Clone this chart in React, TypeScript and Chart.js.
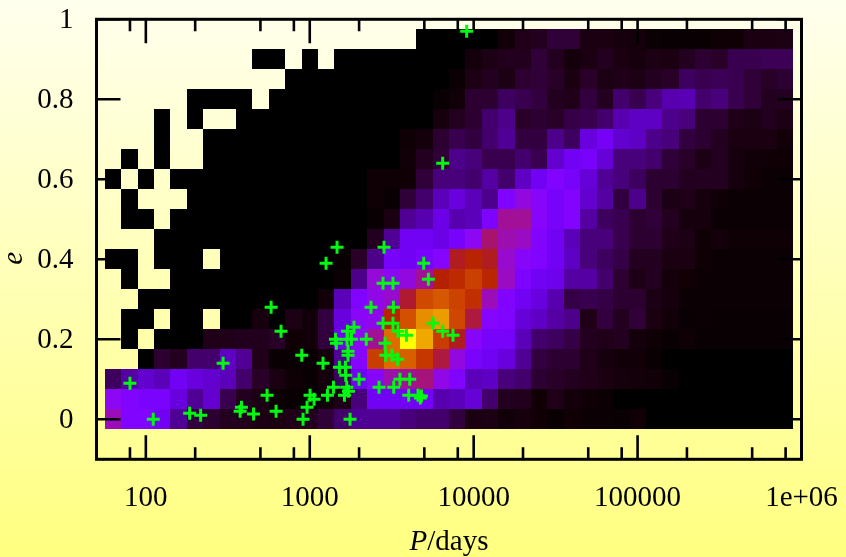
import React, { useEffect, useRef } from "react";
import { Chart, registerables } from "chart.js";

Chart.register(...registerables);

const _ = null;
const logPCentres = [1.8,1.9,2.0,2.1,2.2,2.3,2.4,2.5,2.6,2.7,2.8,2.9,3.0,3.1,3.2,3.3,3.4,3.5,3.6,3.7,3.8,3.9,4.0,4.1,4.2,4.3,4.4,4.5,4.6,4.7,4.8,4.9,5.0,5.1,5.2,5.3,5.4,5.5,5.6,5.7,5.8,5.9];
const eCentres = [0.95,0.9,0.85,0.8,0.75,0.7,0.65,0.6,0.55,0.5,0.45,0.4,0.35,0.3,0.25,0.2,0.15,0.1,0.05,0];

const row95 = [_,_,_,_,_,_,_,_,_,_,_,_,_,_,_,_,_,_,_,0,0,0,0,0,.005,.015,.02,.035,.035,.01,.01,.008,.006,.002,.001,.001,.001,.003,.003,.01,.01,.012];
const row90 = [_,_,_,_,_,_,_,_,_,0,0,_,0,_,0,0,0,0,0,0,0,0,.006,.012,.018,.018,.035,.02,.006,.01,.02,.01,.008,.012,.01,.02,.03,.025,.05,.05,.055,.055];
const row85 = [_,_,_,_,_,_,_,_,_,_,_,0,0,0,0,0,0,0,0,0,0,.002,.012,.02,.012,.03,.035,.025,.01,.025,.012,.015,.012,.02,.025,.06,.05,.055,.05,.035,.025,.03];
const row80 = [_,_,_,_,_,0,0,0,0,_,0,0,0,0,0,0,0,0,0,0,.001,.005,.03,.03,.06,.05,.04,.02,.015,.04,.02,.07,.05,.08,.12,.125,.07,.08,.05,.035,.02,.02];
const row75 = [_,_,_,0,_,0,_,_,0,0,0,0,0,0,0,0,0,0,0,0,.008,.02,.03,.07,.09,.025,.03,.025,.045,.05,.07,.12,.14,.14,.09,.08,.03,.03,.015,.012,.018,.012];
const row70 = [_,_,_,0,_,_,0,0,0,0,0,0,0,0,0,0,0,0,.003,.006,.03,.05,.04,.07,.1,.04,.04,.09,.06,.17,.21,.15,.14,.09,.08,.04,.03,.02,.01,.01,.01,.005];
const row65 = [_,0,_,0,_,_,0,0,0,0,0,0,0,0,0,0,0,0,.005,.02,.035,.09,.08,.05,.05,.07,.05,.15,.2,.22,.16,.08,.08,.07,.035,.025,.012,.02,.008,.005,.004,.003];
const row60 = [0,_,0,_,0,0,0,0,0,0,0,0,0,0,0,0,.003,.003,.004,.035,.08,.08,.07,.11,.07,.14,.2,.25,.22,.16,.1,.08,.06,.03,.03,.02,.02,.02,.008,.004,.002,.002];
const row55 = [_,0,_,_,_,0,0,0,0,0,0,0,0,0,0,0,.003,.001,.035,.07,.13,.17,.13,.09,.25,.33,.28,.22,.26,.15,.11,.04,.09,.03,.012,.015,.008,.003,.002,.002,.002,.002];
const row50 = [_,0,0,_,0,0,0,0,0,0,0,0,0,0,0,0,.001,.01,.1,.12,.18,.12,.13,.24,.4,.4,.28,.22,.26,.11,.06,.05,.03,.035,.02,.008,.008,.002,.002,.002,.002,.002];
const row45 = [_,_,_,0,0,0,0,0,0,0,0,0,0,0,0,0,.02,.1,.2,.2,.18,.22,.3,.43,.38,.36,.26,.2,.13,.08,.08,.05,.03,.03,.015,.012,.003,.006,.003,.003,.003,.003];
const row40 = [0,0,_,0,0,0,_,0,0,0,0,0,0,0,.001,.025,.09,.22,.2,.23,.27,.48,.52,.48,.35,.28,.25,.2,.14,.08,.06,.045,.02,.02,.01,.01,.003,.002,.002,.002,.002,.002];
const row35 = [_,0,_,_,0,0,0,0,0,0,0,0,0,0,.002,.09,.34,.3,.33,.4,.5,.55,.63,.53,.36,.24,.2,.19,.11,.11,.07,.03,.013,.02,.006,.004,.002,.002,.002,.002,.002,.002];
const row30 = [_,_,0,0,0,0,0,0,0,0,0,0,0,.005,.13,.25,.32,.35,.47,.66,.7,.64,.57,.37,.25,.2,.17,.12,.045,.05,.045,.03,.03,.012,.008,.002,.002,.002,.002,.002,.002,.002];
const row25 = [_,0,0,_,0,0,_,0,0,.008,0,.012,.005,.04,.17,.29,.31,.52,.68,.82,.85,.65,.46,.27,.25,.16,.14,.11,.09,.015,.04,.02,.035,.01,.005,.001,.002,.001,.001,.001,.001,.001];
const row20 = [_,0,_,0,0,0,.015,.015,.018,.018,.025,.004,.005,.04,.2,.3,.4,.75,1,.87,.62,.48,.28,.22,.22,.13,.07,.06,.045,.02,.015,.02,.006,.003,.001,.003,.001,.001,.001,.001,.001,.001];
const row15 = [_,_,0,.03,.02,.07,.07,.14,.1,.015,.001,.001,.001,.008,.1,.27,.62,.75,.72,.6,.46,.33,.23,.2,.17,.1,.04,.03,.03,.015,.008,.005,.005,.001,0,0,0,0,0,0,0,0];
const row10 = [.06,.11,.15,.13,.2,.17,.15,.13,.07,.025,.01,.003,.001,.008,.06,.2,.28,.38,.4,.42,.32,.25,.13,.14,.08,.07,.03,.025,.02,.015,.01,.008,.006,.005,.001,0,0,0,0,0,0,0];
const row05 = [.3,.25,.23,.23,.17,.1,.15,.05,.02,.012,.002,.001,.001,.005,.012,.08,.2,.2,.2,.21,.12,.13,.16,.07,.02,.018,.004,.015,.006,.003,.002,0,0,0,0,0,0,0,0,0,0,0];
const row00 = [.37,.25,.25,.2,.1,.04,.03,.02,.018,.012,.01,.015,.02,.035,.07,.1,.1,.1,.08,.07,.07,.04,.01,.012,.005,.007,.004,.001,.004,.002,.002,.001,.004,0,0,0,0,0,0,0,0,0];

const heatRows = [row95,row90,row85,row80,row75,row70,row65,row60,row55,row50,row45,row40,row35,row30,row25,row20,row15,row10,row05,row00];

const planetP = [80,111,185,216,296,383,376,454,549,623,581,668,894,910,963,1004,1062,1205,1257,1467,1395,1282,1434,1454,1517,1651,1658,1681,1722,1628,1761,1999,1698,1863,1689,1796,2211,1712,1712,2364,2838,4955,5293,2799,3220,3238,2799,3220,3454,3888,2878,2906,3175,3441,2646,3253,3550,4074,4016,4575,4799,4730,5649,6471,7480,6471,9066];
const planetE = [.09,0,.015,.01,.14,.03,.02,.013,.06,.02,.28,.22,.16,0,.03,.06,.05,.14,.39,.43,.08,.06,.2,.19,.13,.13,.11,.08,.07,.06,0,.1,.22,.23,.2,.2,.2,.17,.16,.28,.43,.39,.35,.34,.34,.28,.24,.24,.22,.21,.19,.16,.16,.15,.08,.08,.1,.1,.06,.06,.058,.053,.24,.22,.21,.64,.97];

const xTickValues = [80,100,200,500,800,1000,2000,5000,8000,10000,20000,50000,80000,100000,200000,500000,800000,1000000];
const xLabelled = [100,1000,10000,100000,1000000];
const xLabelText = ["100","1000","10000","100000","1e+06"];
const yTickValues = [0,0.2,0.4,0.6,0.8,1];
const yLabelText = ["0","0.2","0.4","0.6","0.8","1"];

const SERIF = '"Liberation Serif", "Times New Roman", serif';

function palette(v: number): string {
  const r = Math.sqrt(v);
  const g = v * v * v;
  const b = Math.max(0, Math.sin(2 * Math.PI * v));
  return `rgb(${Math.round(r * 255)},${Math.round(g * 255)},${Math.round(b * 255)})`;
}

const backdrop = {
  id: "backdrop",
  beforeDraw(chart: any) {
    const { ctx, width, height } = chart;
    const g = ctx.createLinearGradient(0, 0, 0, height);
    g.addColorStop(0, "#ffffee");
    g.addColorStop(1, "#ffff80");
    ctx.save();
    ctx.fillStyle = g;
    ctx.fillRect(0, 0, width, height);
    ctx.restore();
  },
};

const heatmap = {
  id: "heatmap",
  beforeDatasetsDraw(chart: any) {
    const { ctx } = chart;
    const x = chart.scales.x;
    const y = chart.scales.y;
    ctx.save();
    heatRows.forEach((row, ri) => {
      const e = eCentres[ri];
      const y0 = Math.round(y.getPixelForValue(e + 0.025));
      const y1 = Math.round(y.getPixelForValue(e - 0.025));
      row.forEach((v: number | null, ci: number) => {
        if (v === null) return;
        const lp = logPCentres[ci];
        const x0 = Math.round(x.getPixelForValue(Math.pow(10, lp - 0.05)));
        const x1 = Math.round(x.getPixelForValue(Math.pow(10, lp + 0.05)));
        ctx.fillStyle = palette(v);
        ctx.fillRect(x0, y0, x1 - x0, y1 - y0);
      });
    });
    ctx.restore();

    // Inward gnuplot-style ticks and the frame, on top of the cells.
    const { left, right, top, bottom } = chart.chartArea;
    ctx.save();
    ctx.strokeStyle = "#000";
    ctx.lineWidth = 2.6;
    ctx.beginPath();
    xTickValues.forEach((t) => {
      const px = x.getPixelForValue(t);
      const len = xLabelled.includes(t) ? 24 : 12;
      ctx.moveTo(px, bottom);
      ctx.lineTo(px, bottom - len);
      ctx.moveTo(px, top);
      ctx.lineTo(px, top + len);
    });
    yTickValues.forEach((t) => {
      const py = y.getPixelForValue(t);
      ctx.moveTo(left, py);
      ctx.lineTo(left + 24, py);
      ctx.moveTo(right, py);
      ctx.lineTo(right - 24, py);
    });
    ctx.stroke();
    ctx.lineWidth = 3;
    ctx.strokeRect(left, top, right - left, bottom - top);
    ctx.restore();
  },
};

const axisTitles = {
  id: "axisTitles",
  afterDraw(chart: any) {
    const { ctx } = chart;
    const { left, right, top, bottom } = chart.chartArea;
    ctx.save();
    ctx.fillStyle = "#000";
    ctx.textBaseline = "alphabetic";
    ctx.textAlign = "left";
    ctx.font = `italic 29px ${SERIF}`;
    const p = "P";
    const pw = ctx.measureText(p).width;
    ctx.font = `29px ${SERIF}`;
    const rest = "/days";
    const rw = ctx.measureText(rest).width;
    const start = (left + right) / 2 - (pw + rw) / 2;
    ctx.font = `italic 29px ${SERIF}`;
    ctx.fillText(p, start, 550);
    ctx.font = `29px ${SERIF}`;
    ctx.fillText(rest, start + pw, 550);
    ctx.translate(22, (top + bottom) / 2 + 19);
    ctx.rotate(-Math.PI / 2);
    ctx.textAlign = "center";
    ctx.font = `italic 29px ${SERIF}`;
    ctx.fillText("e", 0, 0);
    ctx.restore();
  },
};

export default function App() {
  const ref = useRef<HTMLCanvasElement>(null);
  useEffect(() => {
    if (!ref.current) return;
    const chart = new Chart(ref.current, {
      type: "scatter",
      data: {
        datasets: [
          {
            label: "planets",
            data: planetP.map((p, i) => ({ x: p, y: planetE[i] })),
            pointStyle: "cross",
            pointRadius: 6.5,
            pointHoverRadius: 6.5,
            borderColor: "#00fa10",
            borderWidth: 3,
            backgroundColor: "#00fa10",
          },
        ],
      },
      options: {
        responsive: false,
        animation: false,
        events: [],
        layout: { padding: { left: 0, right: 44.5, top: 19.3, bottom: 0 } },
        plugins: { legend: { display: false }, tooltip: { enabled: false } },
        scales: {
          x: {
            type: "logarithmic",
            min: 50,
            max: 1000000,
            grid: { display: false, drawTicks: false },
            border: { display: false },
            afterBuildTicks: (s: any) => {
              s.ticks = xTickValues.map((value) => ({ value, major: xLabelled.includes(value) }));
            },
            afterFit: (s: any) => {
              s.height = 97.7;
              s.paddingLeft = 0;
              s.paddingRight = 0;
            },
            ticks: {
              autoSkip: false,
              maxRotation: 0,
              padding: 22,
              color: "#000",
              font: { family: SERIF, size: 29 },
              callback: (v: any) => {
                const i = xLabelled.indexOf(Number(v));
                return i >= 0 ? xLabelText[i] : "";
              },
            },
          },
          y: {
            type: "linear",
            min: -0.1,
            max: 1,
            grid: { display: false, drawTicks: false },
            border: { display: false },
            afterBuildTicks: (s: any) => {
              s.ticks = yTickValues.map((value) => ({ value }));
            },
            afterFit: (s: any) => {
              s.width = 96.5;
              s.paddingTop = 0;
              s.paddingBottom = 0;
            },
            ticks: {
              autoSkip: false,
              padding: 23,
              labelOffset: 1.5,
              color: "#000",
              font: { family: SERIF, size: 29 },
              callback: (v: any) => {
                const i = yTickValues.indexOf(Number(v));
                return i >= 0 ? yLabelText[i] : "";
              },
            },
          },
        },
      } as any,
      plugins: [backdrop, heatmap, axisTitles],
    });
    return () => chart.destroy();
  }, []);
  return (
    <div style={{ position: "absolute", left: 0, top: 0, width: 846, height: 557 }}>
      <canvas ref={ref} width={846} height={557} style={{ display: "block" }} />
    </div>
  );
}
